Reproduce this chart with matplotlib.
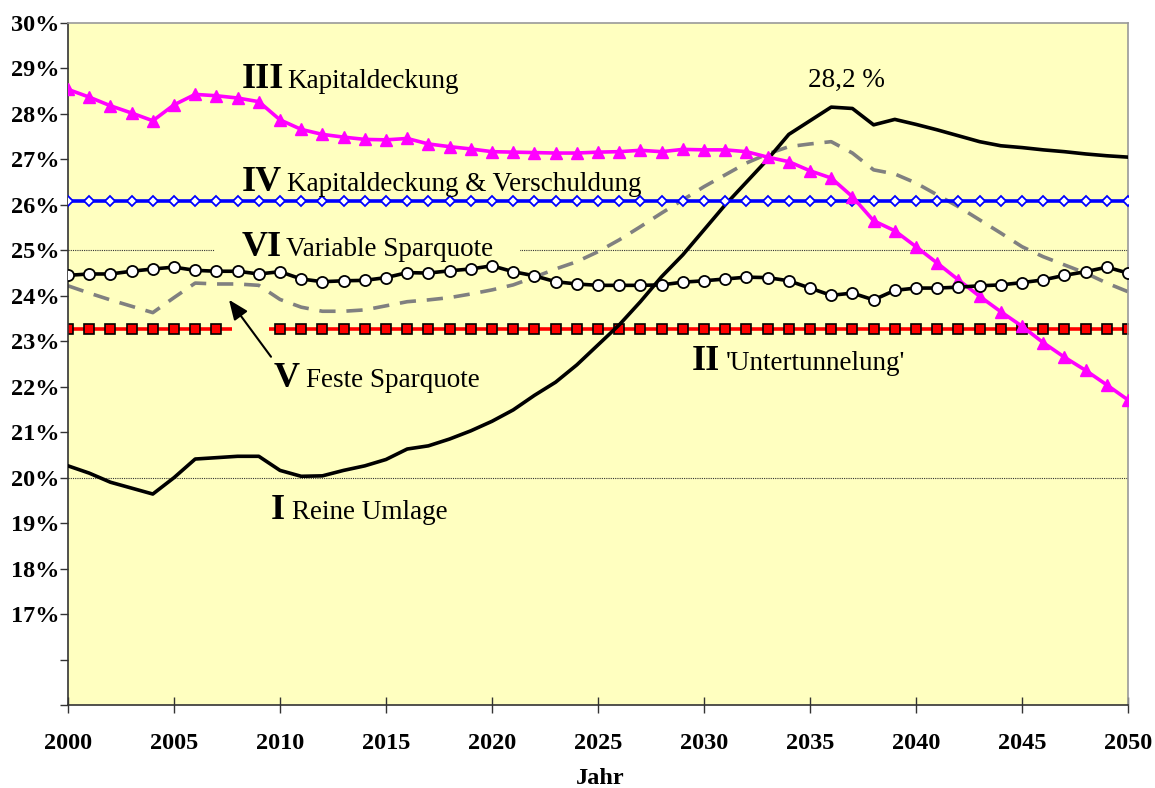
import matplotlib
matplotlib.use("Agg")
import matplotlib.pyplot as plt
from matplotlib.patches import Rectangle
import numpy as np

years = list(range(2000, 2051))

reine_umlage = [20.26, 20.10, 19.90, 19.77, 19.64, 20.00, 20.41, 20.44, 20.47, 20.47,
                20.16, 20.03, 20.04, 20.16, 20.26, 20.40, 20.63, 20.70, 20.85, 21.03,
                21.24, 21.49, 21.81, 22.10, 22.48, 22.92, 23.36, 23.87, 24.42, 24.90,
                25.45, 26.00, 26.50, 27.00, 27.55, 27.85, 28.15, 28.12, 27.76, 27.88,
                27.77, 27.65, 27.52, 27.39, 27.30, 27.26, 27.21, 27.17, 27.12, 27.08,
                27.05]

untertunnelung = [23.27] * 51

kapitaldeckung = [28.54, 28.37, 28.18, 28.02, 27.85, 28.20, 28.43, 28.40, 28.35, 28.27,
                  27.87, 27.66, 27.55, 27.49, 27.44, 27.43, 27.46, 27.34, 27.28, 27.23,
                  27.17, 27.16, 27.15, 27.14, 27.14, 27.16, 27.17, 27.20, 27.17, 27.22,
                  27.21, 27.21, 27.17, 27.05, 26.95, 26.75, 26.59, 26.18, 25.65, 25.43,
                  25.08, 24.72, 24.35, 23.99, 23.65, 23.33, 22.97, 22.65, 22.36, 22.04,
                  21.71]

kap_verschuldung = [26.09] * 51

feste_sparquote = [24.22, 24.06, 23.91, 23.77, 23.63, 23.96, 24.28, 24.26, 24.26, 24.23,
                   23.92, 23.75, 23.66, 23.66, 23.69, 23.78, 23.87, 23.91, 23.96, 24.04,
                   24.13, 24.24, 24.41, 24.59, 24.75, 24.97, 25.23, 25.52, 25.82, 26.11,
                   26.40, 26.66, 26.92, 27.12, 27.28, 27.34, 27.39, 27.14, 26.77, 26.68,
                   26.48, 26.22, 25.96, 25.67, 25.38, 25.08, 24.86, 24.68, 24.50, 24.28,
                   24.09]

variable_sparquote = [24.45, 24.48, 24.48, 24.54, 24.59, 24.63, 24.56, 24.54, 24.54, 24.48,
                      24.53, 24.37, 24.31, 24.33, 24.34, 24.40, 24.51, 24.50, 24.55, 24.59,
                      24.66, 24.53, 24.44, 24.31, 24.26, 24.23, 24.23, 24.23, 24.24, 24.30,
                      24.33, 24.37, 24.41, 24.40, 24.33, 24.17, 24.01, 24.06, 23.91, 24.12,
                      24.17, 24.17, 24.19, 24.22, 24.24, 24.29, 24.35, 24.45, 24.53, 24.63,
                      24.50]

y_ticks = list(range(15, 31))
y_tick_labels = ["", ""] + [f"{v}%" for v in range(17, 31)]
x_ticks = list(range(2000, 2051, 5))

BG = "#FFFFC0"
SERIF = ["Liberation Serif", "DejaVu Serif"]

fig = plt.figure(figsize=(11.55, 7.88), dpi=100)
ax = fig.add_axes([68 / 1155, 1 - 705 / 788, (1128 - 68) / 1155, (705 - 23) / 788])
ax.set_facecolor(BG)
ax.set_xlim(2000, 2050)
ax.set_ylim(15, 30)

# sparse gridlines
for gy in (20, 25):
    ax.axhline(gy, color="#333333", lw=0.8, ls=(0, (1, 1)), zorder=1)

ax.plot(years, feste_sparquote, color="#808080", lw=2.6, ls=(0, (4.5, 3.0)), zorder=2)
ax.plot(years, untertunnelung, color="#FF0000", lw=2.6, marker="s", ms=7,
        mfc="#FF0000", mec="#000000", mew=1.2, zorder=2)
ax.add_patch(Rectangle((2007.74, 23.0), 1.74, 0.55, facecolor=BG, edgecolor="none", zorder=2.5))
ax.plot(years, reine_umlage, color="#000000", lw=2.6, zorder=3)
ax.plot(years, kap_verschuldung, color="#0000FF", lw=2.6, marker="D", ms=5.5,
        mfc="white", mec="#0000FF", mew=1.3, zorder=3)
ax.plot(years, kapitaldeckung, color="#FF00FF", lw=2.6, marker="^", ms=9,
        mfc="#FF00FF", mec="#FF00FF", zorder=4)
ax.plot(years, variable_sparquote, color="#000000", lw=2.6, marker="o", ms=8,
        mfc="white", mec="#000000", mew=1.3, zorder=5)

ax.set_xticks(x_ticks)
ax.set_xticklabels([str(x) for x in x_ticks], fontfamily=SERIF, fontweight="bold", fontsize=17.5)
ax.set_yticks(y_ticks)
ax.set_yticklabels(y_tick_labels, fontfamily=SERIF, fontweight="bold", fontsize=17.5)
ax.tick_params(axis="x", direction="inout", length=12, width=1, pad=14, color="#333333")
ax.tick_params(axis="y", direction="out", length=5.8, width=1, pad=0.5, color="#333333")
fig.text(600 / 1155, 1 - 784 / 788, "Jahr", fontfamily=SERIF, fontweight="bold",
         fontsize=17.5, ha="center", va="baseline")

for s in ("left", "bottom"):
    ax.spines[s].set_color("#333333")
    ax.spines[s].set_linewidth(1.2)
for s in ("top", "right"):
    ax.spines[s].set_color("#999999")
    ax.spines[s].set_linewidth(1.2)


def px2data(px, py):
    return 2000 + (px - 68) / 21.2, 30 - (py - 23) / 45.5


def label(numeral, nx, text, tx, py):
    x1, y1 = px2data(nx, py)
    x2, _ = px2data(tx, py)
    ax.text(x1, y1, numeral, fontfamily=SERIF, fontweight="bold", fontsize=26,
            va="center", ha="left", zorder=6)
    ax.text(x2, y1 - 0.04, text, fontfamily=SERIF, fontsize=19.5, va="center", ha="left",
            zorder=6)


# box hiding the 25 % gridline behind label VI
x_a, _ = px2data(215, 250)
x_b, _ = px2data(520, 250)
ax.add_patch(Rectangle((x_a, 24.8), x_b - x_a, 0.4, facecolor=BG, edgecolor="none", zorder=1.5))

label("III", 242, "Kapitaldeckung", 287, 80)
label("IV", 242, "Kapitaldeckung & Verschuldung", 287, 183)
label("VI", 242, "Variable Sparquote", 286, 248)
label("V", 274, "Feste Sparquote", 306, 379)
label("II", 692, "'Untertunnelung'", 726, 362)
label("I", 271, "Reine Umlage", 292, 511)

xp, yp = px2data(846, 80)
ax.text(xp, yp, "28,2 %", fontfamily=SERIF, fontsize=19.5, ha="center", va="center", zorder=6)

tail = px2data(271, 357)
head = px2data(229, 300)
ax.annotate("", xy=head, xytext=tail,
            arrowprops=dict(arrowstyle="-|>,head_length=1.2,head_width=0.5", color="black",
                            lw=1.5, shrinkA=0, shrinkB=0), zorder=6)

fig.savefig("out.png", dpi=100, facecolor="white")
